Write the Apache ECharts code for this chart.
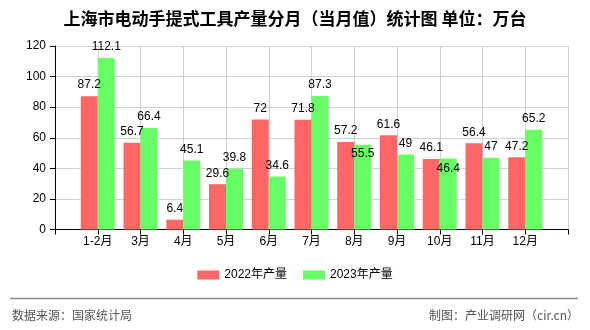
<!DOCTYPE html>
<html>
<head>
<meta charset="utf-8">
<script src="https://cdn.jsdelivr.net/npm/echarts@6/dist/echarts.min.js"></script>
<style>
html,body{margin:0;padding:0;background:#fff;}
#c{width:590px;height:330px;}
</style>
</head>
<body>
<div id="c"></div>
<script>
const categories = ['1-2月','3月','4月','5月','6月','7月','8月','9月','10月','11月','12月'];
const values2022 = [87.2, 56.7, 6.4, 29.6, 72, 71.8, 57.2, 61.6, 46.1, 56.4, 47.2];
const values2023 = [112.1, 66.4, 45.1, 39.8, 34.6, 87.3, 55.5, 49, 46.4, 47, 65.2];
const yTicks = [0, 20, 40, 60, 80, 100, 120];
const seriesNames = ['2022年产量', '2023年产量'];

const axisData = [''].concat(categories, ['']);
function pad(arr){ return ['-'].concat(arr, ['-']); }
// labels shifted down where the original avoided overlap
const shifted2023 = {'8月': 20, '10月': 21};
const data2023 = pad(values2023).map((v, i) => {
  const off = shifted2023[axisData[i]];
  if (off && v !== '-') return {value: v, label: {offset: [0, off]}};
  return v;
});

const chart = echarts.init(document.getElementById('c'));
const labelStyle = {show: true, position: 'top', distance: 5, color: '#000',
  fontFamily: 'Liberation Sans, Arial, sans-serif', fontSize: 12};
chart.setOption({
  animation: false,
  backgroundColor: '#fff',
  title: {
    text: '上海市电动手提式工具产量分月（当月值）统计图 单位：万台',
    left: 'center', top: 5,
    textStyle: {fontSize: 17, fontWeight: 'bold', color: '#000', fontFamily: 'Noto Sans CJK SC'}
  },
  legend: {
    data: seriesNames, bottom: 44, left: 'center',
    itemWidth: 22, itemHeight: 9, itemGap: 16,
    textStyle: {fontSize: 12, color: '#000', fontFamily: 'Liberation Sans, Noto Sans CJK SC'},
    icon: 'rect'
  },
  grid: {left: 55, right: 22, top: 46, bottom: 100.5},
  xAxis: {
    type: 'category', data: axisData, boundaryGap: false,
    axisLine: {lineStyle: {color: '#000'}},
    axisTick: {show: true, length: 5, lineStyle: {color: '#000'}, alignWithLabel: true},
    axisLabel: {color: '#000', fontSize: 12, margin: 6, interval: 0,
      fontFamily: 'Liberation Sans, Noto Sans CJK SC'},
    splitLine: {show: true, lineStyle: {color: '#d0d0d0'}}
  },
  yAxis: {
    type: 'value', min: yTicks[0], max: yTicks[yTicks.length-1], interval: yTicks[1]-yTicks[0],
    axisLine: {show: true, lineStyle: {color: '#000'}},
    axisTick: {show: true, length: 5, lineStyle: {color: '#000'}},
    axisLabel: {color: '#000', fontSize: 12, margin: 9, fontFamily: 'Liberation Sans, Noto Sans CJK SC'},
    splitLine: {show: true, lineStyle: {color: '#d0d0d0'}}
  },
  graphic: [
    {type: 'line', shape: {x1: 10, y1: 298.5, x2: 578, y2: 298.5}, style: {stroke: '#888', lineWidth: 1.5}},
    {type: 'text', left: 12, top: 309, style: {text: '数据来源：国家统计局', fill: '#555', fontSize: 12, fontFamily: 'Noto Sans CJK SC'}},
    {type: 'text', right: 11, top: 309, style: {text: '制图：产业调研网（cir.cn）', fill: '#555', fontSize: 12, fontFamily: 'Noto Sans CJK SC'}}
  ],
  series: [
    {name: seriesNames[0], type: 'bar', data: pad(values2022), barWidth: 17, barGap: '0%',
      itemStyle: {color: '#ff6666'}, label: labelStyle},
    {name: seriesNames[1], type: 'bar', data: data2023, barWidth: 17, barGap: '0%',
      itemStyle: {color: '#66ff66'}, label: labelStyle}
  ]
});
</script>
</body>
</html>
